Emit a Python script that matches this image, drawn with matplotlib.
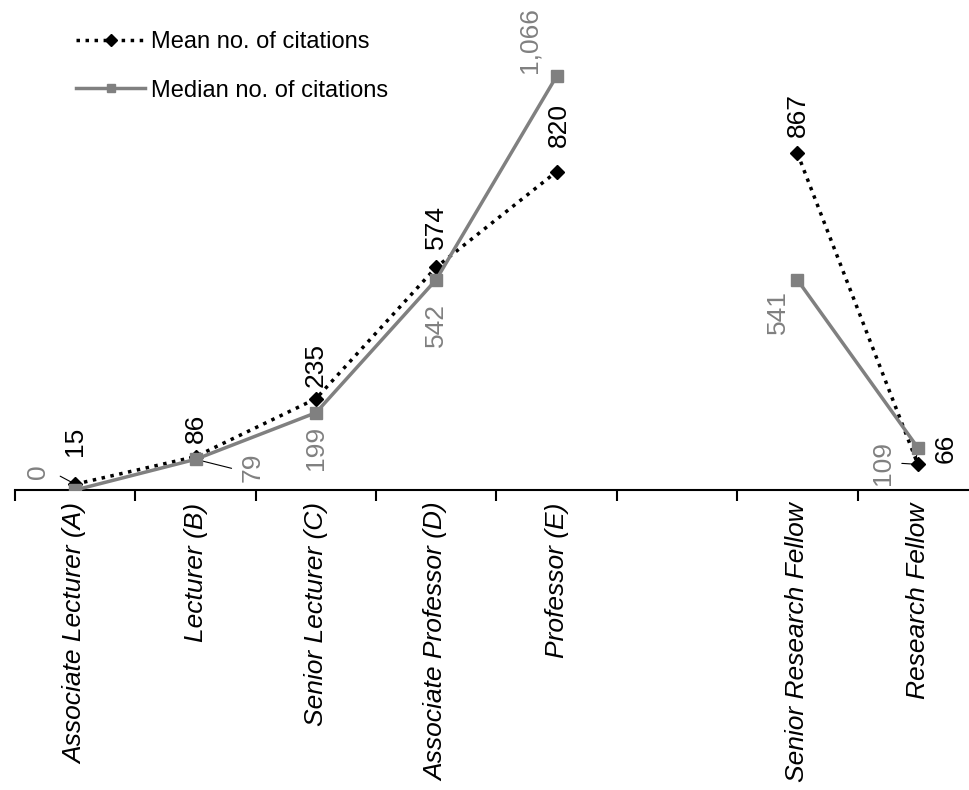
import matplotlib.pyplot as plt
import numpy as np

plt.rcParams['font.family'] = ['Liberation Sans', 'DejaVu Sans']

# Academic levels (empty slot separates teaching and research positions)
levels = ["Associate Lecturer (A)", "Lecturer (B)", "Senior Lecturer (C)",
          "Associate Professor (D)", "Professor (E)", "",
          "Senior Research Fellow", "Research Fellow"]
mean_cites = [15, 86, 235, 574, 820, np.nan, 867, 66]
median_cites = [0, 79, 199, 542, 1066, np.nan, 541, 109]

# label offsets in pixels (dx, dy) from each point to the label centre
mean_offsets = [(0, 43), (0, 28), (0, 34), (0, 40), (2, 47), (0, 0), (0, 38), (28, 16)]
median_offsets = [(-37, 18), (57, -8), (0, -35), (0, -45), (-27, 36), (0, 0), (-19, -32), (-35, -15)]

PX = 0.72  # pixels -> points at 100 dpi

x = np.arange(len(levels))
fig = plt.figure(figsize=(9.7, 7.9), dpi=100)
ax = fig.add_axes([15 / 970, 300 / 790, 963 / 970, (790 - 24) / 790 - 300 / 790])

ax.plot(x, mean_cites, color='black', linestyle=(0, (1, 1.6)), linewidth=2.5,
        marker='D', markersize=7.5, label="Mean no. of citations", zorder=3)
ax.plot(x, median_cites, color='#808080', linewidth=2.5,
        marker='s', markersize=8.5, label="Median no. of citations", zorder=4)

ax.set_xlim(-0.5, len(levels) - 0.5)
ax.set_ylim(0, 1200)

for xi, v, (dx, dy) in zip(x, mean_cites, mean_offsets):
    if np.isnan(v):
        continue
    ax.annotate(f"{v:,.0f}", (xi, v), xytext=(dx * PX, dy * PX), textcoords='offset points',
                rotation=90, ha='center', va='center', fontsize=19, color='black',
                annotation_clip=False)
for xi, v, (dx, dy) in zip(x, median_cites, median_offsets):
    if np.isnan(v):
        continue
    ax.annotate(f"{v:,.0f}", (xi, v), xytext=(dx * PX, dy * PX), textcoords='offset points',
                rotation=90, ha='center', va='center', fontsize=19, color='#808080',
                annotation_clip=False)

# small leader lines from labels to their points
leaders = [((0, mean_cites[0]), (-15, 8)),
           ((1, median_cites[1]), (36, -9)),
           ((7, mean_cites[7]), (-16, 1)),
           ((7, median_cites[7]), (-2, -13))]
for pt, (dx, dy) in leaders:
    ax.annotate("", pt, xytext=(dx * PX, dy * PX), textcoords='offset points',
                arrowprops=dict(arrowstyle='-', color='black', lw=0.8, shrinkA=0, shrinkB=3))

# axis: only the baseline with ticks between categories
for side in ['left', 'right', 'top']:
    ax.spines[side].set_visible(False)
ax.spines['bottom'].set_linewidth(1.5)
ax.set_yticks([])
ax.set_xticks(x)
ax.set_xticklabels(levels, rotation=90, fontsize=19, style='italic', va='top')
ax.tick_params(axis='x', which='major', length=0, pad=9)
ax.set_xticks(np.arange(-0.5, len(levels)), minor=True)
ax.tick_params(axis='x', which='minor', length=8, width=1.5, direction='out')

ax.legend(loc='upper left', bbox_to_anchor=(52 / 963, 1.005), frameon=False, fontsize=17,
          handlelength=2.9, handletextpad=0.25, labelspacing=1.12, borderaxespad=0,
          markerscale=0.75)

fig.savefig("out.png", dpi=100)
